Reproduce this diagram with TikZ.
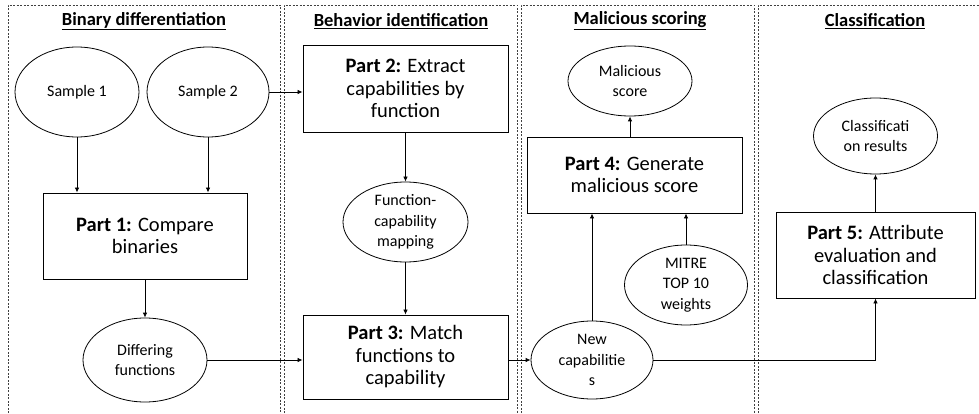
\documentclass[tikz,border=0pt]{standalone}
\usepackage{fontspec}
\setmainfont{Carlito}
\usetikzlibrary{shapes.geometric,arrows.meta}

\begin{document}
\begin{tikzpicture}[x=1pt,y=-1pt,
  panel/.style={draw=black!75,line width=0.6pt,dash pattern=on 2pt off 1.5pt},
  heading/.style={font=\fontsize{18.5}{20}\selectfont\bfseries},
  ell/.style={ellipse,draw,line width=0.8pt,inner sep=0pt,align=center,
    font=\fontsize{16}{20.5}\selectfont},
  stepbox/.style={rectangle,draw,line width=0.9pt,inner sep=0pt,align=center,
    font=\fontsize{20.5}{22.5}\selectfont},
  arr/.style={-{Latex[length=5pt,width=4.5pt]},line width=0.8pt}]

\useasboundingbox (0,0) rectangle (979,414);

% stage panels (open at the bottom)
\draw[panel] (8,420) -- (8,5) -- (280,5) -- (280,420);
\draw[panel] (284,420) -- (284,5) -- (517,5) -- (517,420);
\draw[panel] (521,420) -- (521,5) -- (754,5) -- (754,420);
\draw[panel] (758,420) -- (758,5) -- (990,5);

% stage headings
\node[heading] (h1) at (144,21) {\underline{Binary differentiation}};
\node[heading] (h2) at (401,21) {\underline{Behavior identification}};
\node[heading] (h3) at (640,21) {\underline{Malicious scoring}};
\node[heading] (h4) at (875,21) {\underline{Classification}};

% binary differentiation
\node[ell,minimum width=124pt,minimum height=90pt] (s1) at (77,92) {Sample 1};
\node[ell,minimum width=122pt,minimum height=90pt] (s2) at (208,92) {Sample 2};
\node[stepbox,minimum width=204pt,minimum height=86pt] (p1) at (145,236)
  {\textbf{Part 1:} Compare\\binaries};
\node[ell,minimum width=124pt,minimum height=84pt] (diff) at (145,360)
  {Differing\\functions};

% behavior identification
\node[stepbox,minimum width=205pt,minimum height=87pt] (p2) at (405.5,88.5)
  {\textbf{Part 2:} Extract\\capabilities by\\function};
\node[ell,minimum width=125pt,minimum height=80pt] (fcm) at (405.5,222)
  {Function-\\capability\\mapping};
\node[stepbox,minimum width=205pt,minimum height=84pt] (p3) at (405.5,357)
  {\textbf{Part 3:} Match\\functions to\\capability};

% malicious scoring
\node[ell,minimum width=124pt,minimum height=70pt] (ms) at (630,81)
  {Malicious\\score};
\node[stepbox,minimum width=215pt,minimum height=76pt] (p4) at (634.5,175)
  {\textbf{Part 4:} Generate\\malicious score};
\node[ell,minimum width=123pt,minimum height=80pt] (mitre) at (686,285)
  {MITRE\\TOP 10\\weights};
\node[ell,minimum width=122pt,minimum height=78pt] (newc) at (592,360)
  {New\\capabilitie\\s};

% classification
\node[ell,minimum width=124pt,minimum height=76pt] (cr) at (875.5,136)
  {Classificati\\on results};
\node[stepbox,minimum width=199pt,minimum height=86pt] (p5) at (875.5,255)
  {\textbf{Part 5:} Attribute\\evaluation and\\classification};

% connectors
\draw[arr] (s1.south) -- (s1.south |- p1.north);
\draw[arr] (s2.south) -- (s2.south |- p1.north);
\draw[arr] (p1.south) -- (diff.north);
\draw[arr] (s2.east) -- (s2.east -| p2.west);
\draw[arr] (diff.east) -- (diff.east -| p3.west);
\draw[arr] (p2.south) -- (fcm.north);
\draw[arr] (fcm.south) -- (p3.north);
\draw[arr] (p3.east |- newc.west) -- (newc.west);
\draw[arr] (newc.north) -- (newc.north |- p4.south);
\draw[arr] (mitre.north) -- (mitre.north |- p4.south);
\draw[arr] (ms.south |- p4.north) -- (ms.south);
\draw[arr] (newc.east) -| (p5.south);
\draw[arr] (p5.north) -- (cr.south);
\end{tikzpicture}
\end{document}
